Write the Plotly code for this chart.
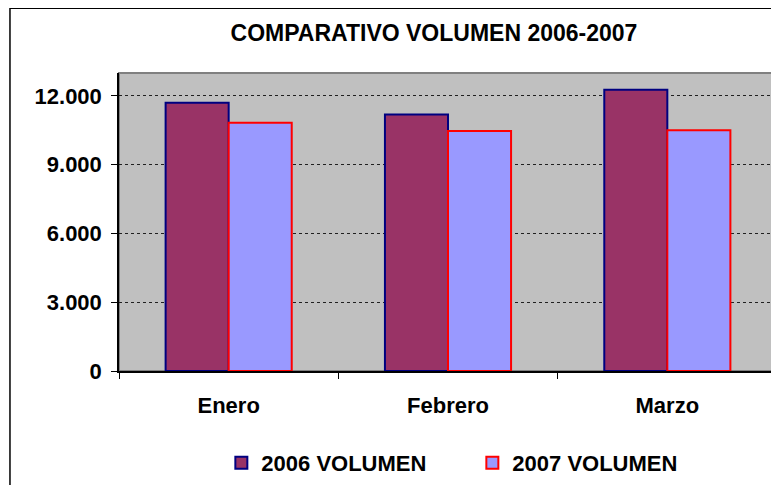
import plotly.graph_objects as go

meses = ["Enero", "Febrero", "Marzo"]
vol_2006 = [11700, 11190, 12270]
vol_2007 = [10830, 10470, 10500]
nombres = ["2006 VOLUMEN", "2007 VOLUMEN"]
y_ticks = [0, 3000, 6000, 9000, 12000]

fuente = dict(family="Arial, Liberation Sans", size=22, color="black", weight="bold")

fig = go.Figure()
fig.add_trace(go.Bar(x=meses, y=vol_2006, name=nombres[0],
                     marker=dict(color="#993366", line=dict(color="#000080", width=2))))
fig.add_trace(go.Bar(x=meses, y=vol_2007, name=nombres[1],
                     marker=dict(color="#9999FF", line=dict(color="#FF0000", width=2))))

# la pagina tiene 8px de margen, por eso el grafico es algo mas pequeño
fig.update_layout(
    width=771, height=477,
    margin=dict(l=111, r=2, t=65, b=113),
    paper_bgcolor="white", plot_bgcolor="#C0C0C0",
    separators=",.",
    font=fuente,
    barmode="group", bargap=0.425, bargroupgap=0,
    title=dict(text="COMPARATIVO VOLUMEN 2006-2007", x=0.5525, xanchor="center",
               y=0.948, yanchor="middle", font=dict(fuente, size=23)),
    legend=dict(orientation="h", x=0.537, xanchor="center", y=-0.304, yanchor="middle",
                font=fuente, entrywidth=206, entrywidthmode="pixels", bgcolor="rgba(0,0,0,0)"),
    showlegend=True,
)

fig.update_yaxes(range=[0, 13000], tickvals=y_ticks, tickformat=",",
                 showgrid=True, gridcolor="#202020", griddash="dot", gridwidth=1,
                 showline=True, linecolor="black", linewidth=1.5,
                 ticks="outside", ticklen=6, tickcolor="black",
                 ticklabelstandoff=5, zeroline=False)
fig.update_xaxes(tickson="boundaries", ticks="outside", ticklen=6, tickcolor="black",
                 showline=True, linecolor="black", linewidth=1.5,
                 ticklabelstandoff=14, showgrid=False)

# borde gris del area de trazado
fig.add_shape(type="rect", xref="paper", yref="paper", x0=0, y0=0, x1=1, y1=1,
              line=dict(color="#808080", width=2), layer="below")
# marco exterior del grafico
fig.add_shape(type="rect", xref="paper", yref="paper", x0=-0.1657, y0=-0.5, x1=1.2, y1=1.2174,
              line=dict(color="black", width=1.5))

fig.write_html("out.html")
